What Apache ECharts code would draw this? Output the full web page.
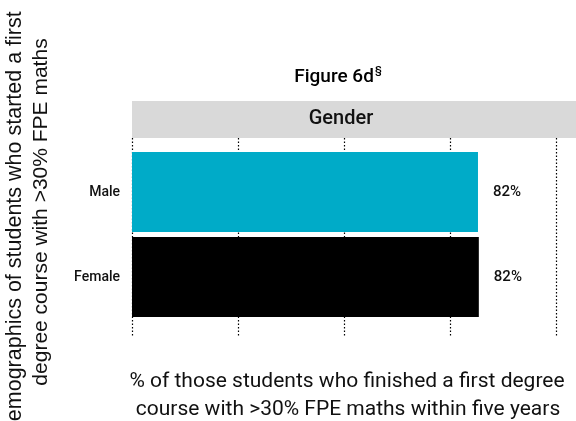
<!DOCTYPE html>
<html>
<head>
<meta charset="utf-8">
<script src="https://cdn.jsdelivr.net/npm/echarts@6/dist/echarts.min.js"></script>
<style>html,body{margin:0;padding:0;background:#fff;}#c{width:576px;height:421px;}</style>
</head>
<body>
<div id="c"></div>
<script>
var categories = ['Male', 'Female'];
var values = [81.6, 81.8];
var barColors = ['#00abc8', '#000000'];
var xTicks = [0, 25, 50, 75, 100];
var titleMain = 'Figure 6d';
var titleMark = '§';
var panelText = 'Gender';
var xTitleLines = ['% of those students who finished a first degree', 'course with >30% FPE maths within five years'];
var yTitleLines = ['Demographics of students who started a first', 'degree course with >30% FPE maths'];

var FONT = 'Roboto, "Noto Sans", sans-serif';
var chart = echarts.init(document.getElementById('c'), null, {renderer: 'canvas'});

var option = {
  animation: false,
  backgroundColor: '#fff',
  grid: [
    {left: 132, width: 424, top: 149.5, height: 170, containLabel: false},
    {left: 132, width: 424, top: 138, height: 199, containLabel: false}
  ],
  xAxis: [
    {gridIndex: 0, type: 'value', min: xTicks[0], max: xTicks[xTicks.length - 1], interval: 25,
     show: false},
    {gridIndex: 1, type: 'value', min: xTicks[0], max: xTicks[xTicks.length - 1], interval: 25,
     axisLine: {show: false}, axisTick: {show: false}, axisLabel: {show: false},
     splitLine: {show: true, lineStyle: {color: '#000', width: 1.2, type: [1.5, 2]}}}
  ],
  yAxis: [
    {gridIndex: 0, type: 'category', data: categories, inverse: true,
     axisLine: {show: false}, axisTick: {show: false}, splitLine: {show: false},
     axisLabel: {color: '#111', fontSize: 14, fontWeight: 500, fontFamily: FONT, margin: 12}},
    {gridIndex: 1, type: 'value', min: 0, max: 1, show: false}
  ],
  series: [{
    type: 'bar', xAxisIndex: 0, yAxisIndex: 0,
    barWidth: 80,
    data: values.map(function (v, i) { return {value: v, itemStyle: {color: barColors[i]}}; }),
    label: {show: true, position: 'right', distance: 15, color: '#111', fontSize: 15, fontWeight: 500,
            fontFamily: FONT, formatter: function (p) { return Math.round(p.value) + '%'; }},
    z: 5
  }],
  graphic: [
    {type: 'rect', left: 132, top: 101, shape: {width: 444, height: 37}, style: {fill: '#d9d9d9'}, z: 0},
    {type: 'text', x: 341, y: 119, style: {text: panelText, fill: '#111', font: '500 20px ' + FONT, textAlign: 'center', textVerticalAlign: 'middle'}, z: 10},
    {type: 'text', x: 338, y: 75, style: {
      text: '{a|' + titleMain + '}{b|' + titleMark + '}', textAlign: 'center', textVerticalAlign: 'middle',
      rich: {
        a: {fontFamily: FONT, fontSize: 19, fontWeight: 500, color: '#111', lineHeight: 24, verticalAlign: 'bottom'},
        b: {fontFamily: FONT, fontSize: 11, fontWeight: 500, color: '#111', lineHeight: 24, verticalAlign: 'top', padding: [3, 0, 0, 1]}
      }}, z: 10},
    {type: 'text', x: 347, y: 382, style: {text: xTitleLines[0], fill: '#111', font: '21px ' + FONT, textAlign: 'center', textVerticalAlign: 'middle'}, z: 10},
    {type: 'text', x: 348, y: 410, style: {text: xTitleLines[1], fill: '#111', font: '21px ' + FONT, textAlign: 'center', textVerticalAlign: 'middle'}, z: 10},
    {type: 'text', x: 15, y: 224, rotation: Math.PI / 2, style: {text: yTitleLines[0], fill: '#111', font: '21.5px "Liberation Sans", Arial, sans-serif', textAlign: 'center', textVerticalAlign: 'middle'}, z: 10},
    {type: 'text', x: 41, y: 212, rotation: Math.PI / 2, style: {text: yTitleLines[1], fill: '#111', font: '21px "Liberation Sans", Arial, sans-serif', textAlign: 'center', textVerticalAlign: 'middle'}, z: 10}
  ]
};
chart.setOption(option);
</script>
</body>
</html>
